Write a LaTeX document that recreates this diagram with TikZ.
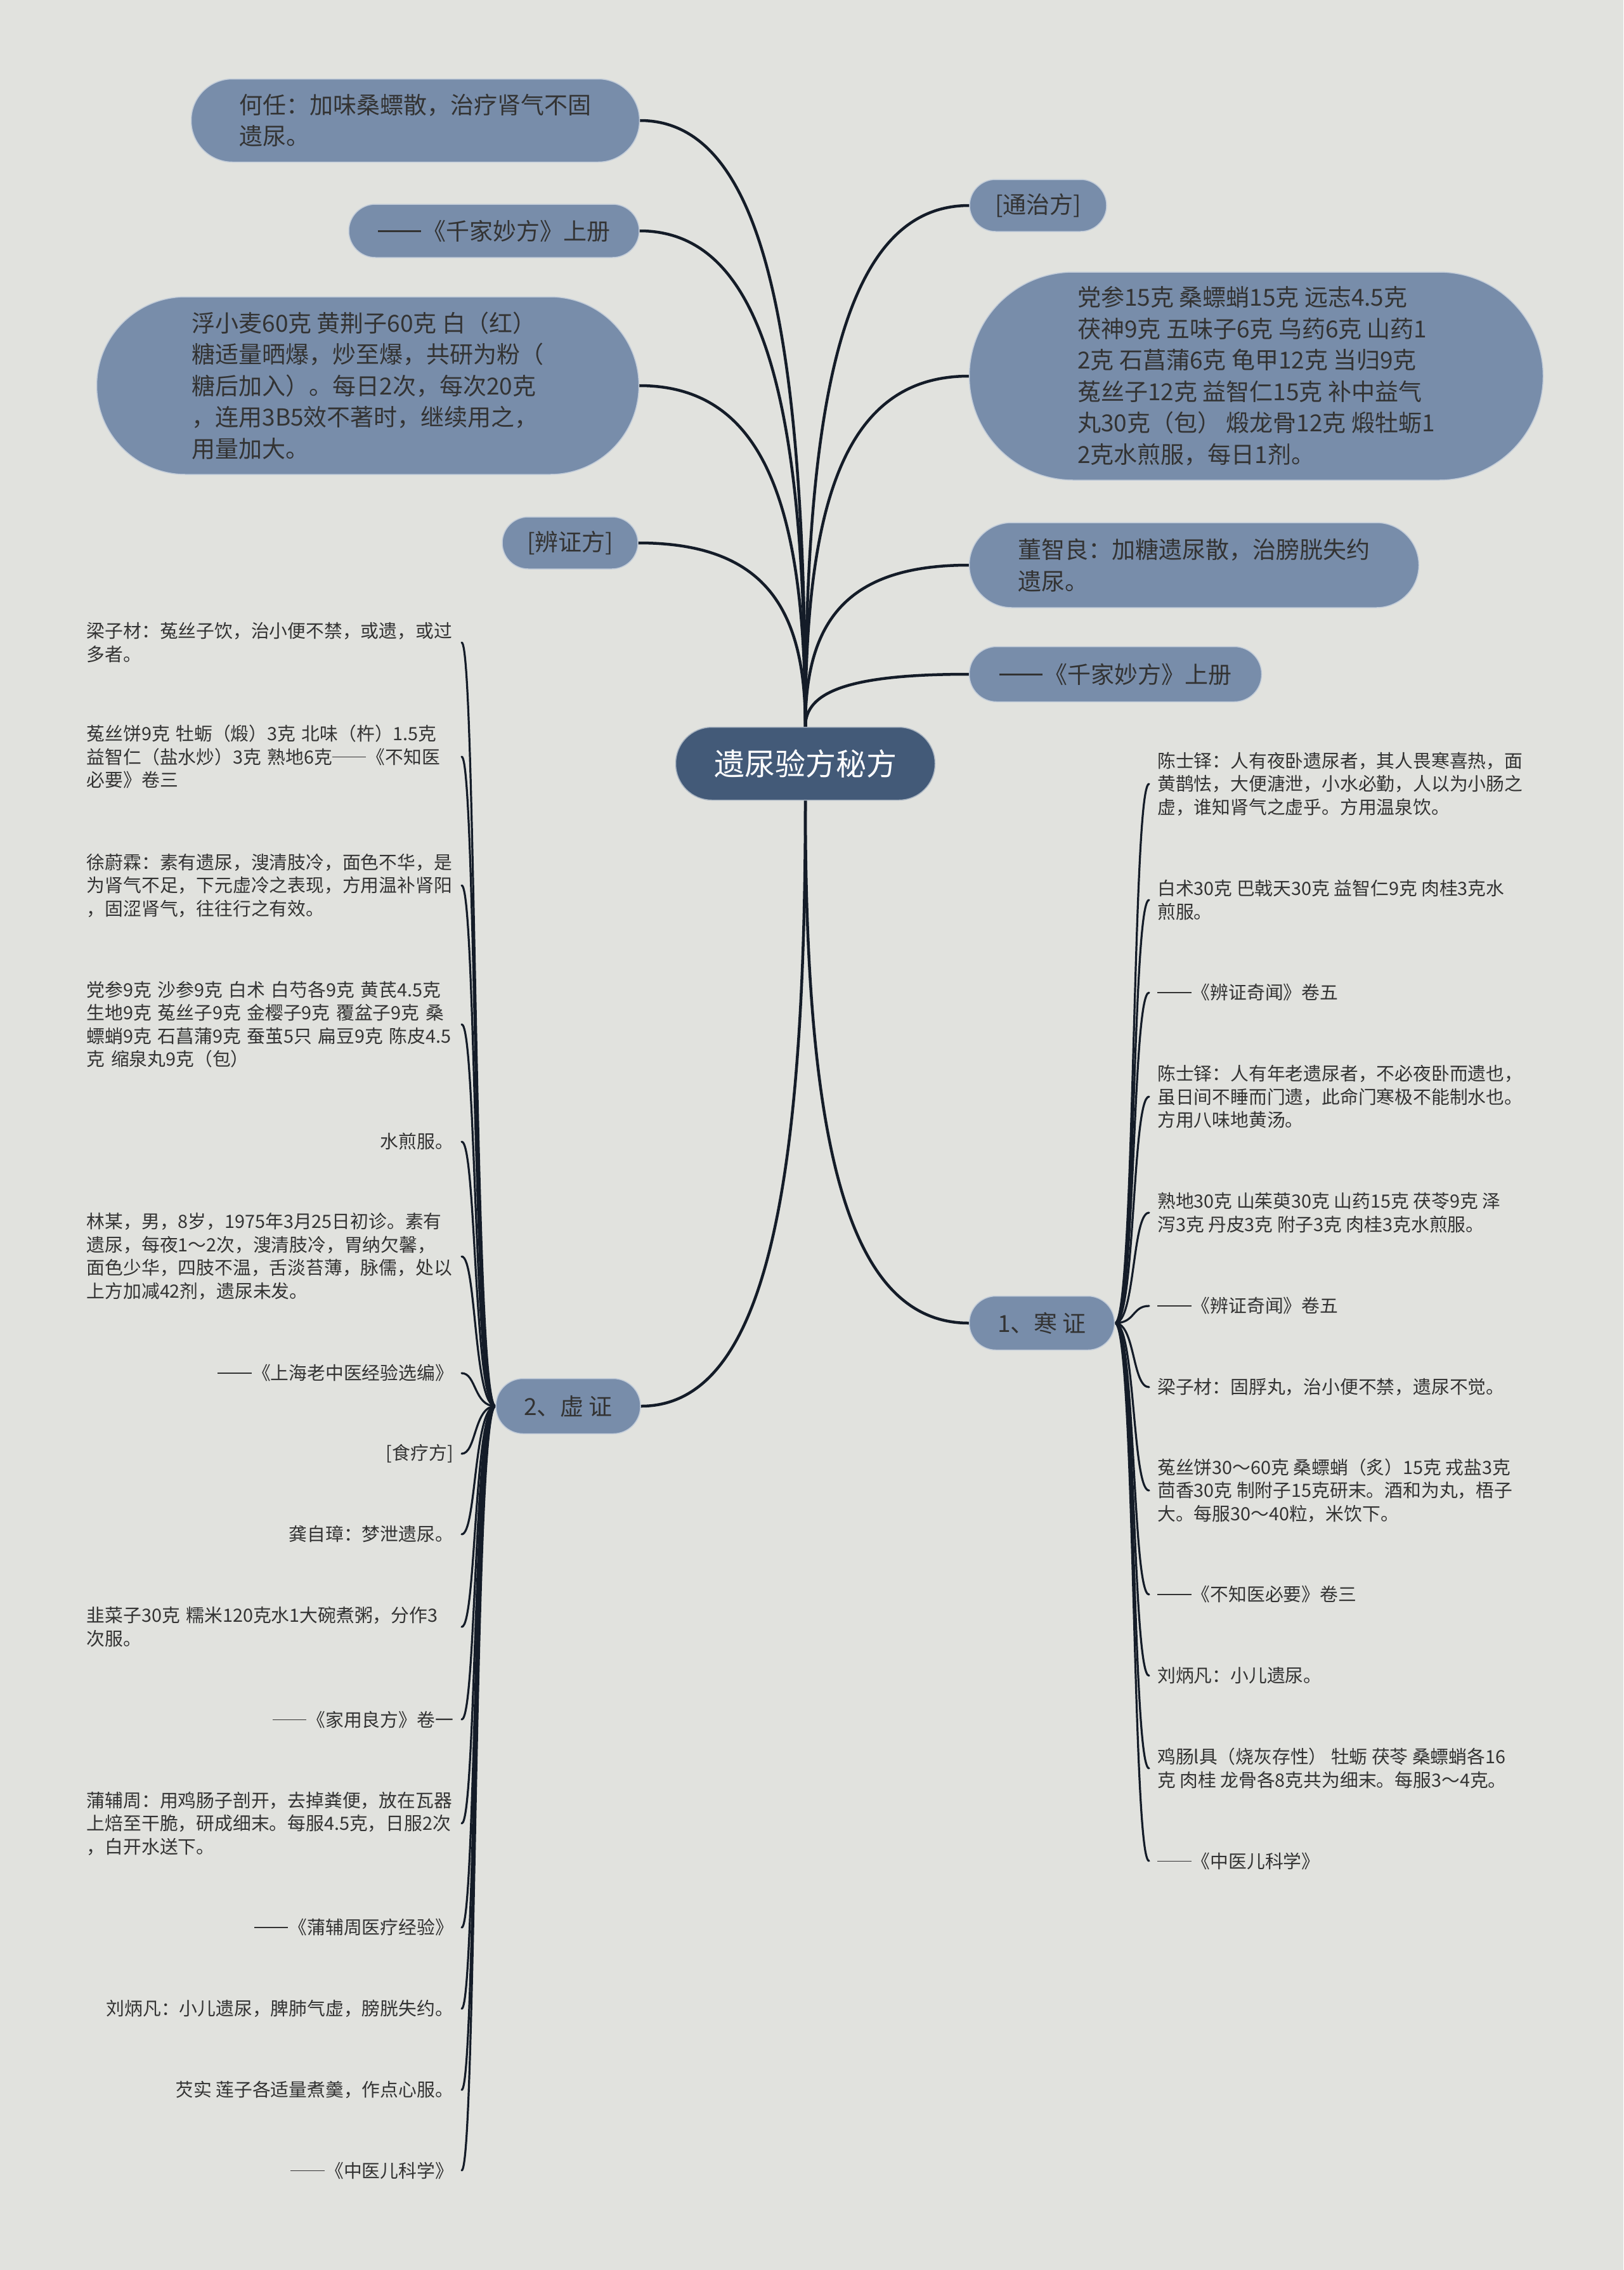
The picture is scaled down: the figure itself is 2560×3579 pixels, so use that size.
\documentclass[tikz,border=0pt]{standalone}
\usepackage{fontspec}
\setmainfont{Noto Sans CJK SC}
\usetikzlibrary{calc}
\definecolor{bgc}{HTML}{E1E2DE}
\definecolor{nodefill}{HTML}{788DAA}
\definecolor{rootfill}{HTML}{435A78}
\definecolor{linec}{HTML}{141C28}
\definecolor{txt}{HTML}{333333}
\pgfdeclarelayer{back}
\pgfsetlayers{back,main}
\newcommand\ddash{\raisebox{0.34em}{\rule{1.85em}{0.06em}}\hspace{0.05em}}
\tikzset{
  box/.style={fill=nodefill, draw=white!55!nodefill, line width=1.5pt, text=txt,
    font=\fontsize{37pt}{49.5pt}\selectfont, align=left, inner sep=0pt},
  rootbox/.style={fill=rootfill, draw=white!55!rootfill, line width=1.5pt, text=white,
    font=\fontsize{48pt}{58pt}\selectfont, inner sep=0pt},
  leafL/.style={anchor=east, text=txt, font=\fontsize{28.8pt}{36.5pt}\selectfont,
    align=left, inner xsep=13pt, inner ysep=0pt},
  leafLw/.style={leafL, text width=578pt},
  leafR/.style={anchor=west, text=txt, font=\fontsize{28.8pt}{36.5pt}\selectfont,
    align=left, inner xsep=13pt, inner ysep=0pt},
  mainline/.style={draw=linec, line width=4.5pt, line cap=round},
  leafline/.style={draw=linec, line width=3.2pt, line cap=round},
}
\newcommand\mconn[2]{\draw[mainline] let \p1=(#1), \p2=(#2) in (\p1) .. controls (\x1,{0.35*\y1+0.65*\y2}) and ({0.75*\x1+0.25*\x2},\y2) .. (\p2);}
\newcommand\rconn[2]{\draw[leafline] let \p1=(#1), \p2=(#2) in (\p1) .. controls ({\x1+32pt},\y1) and ({\x1+27pt},\y2) .. (\p2);}
\newcommand\lconn[2]{\draw[leafline] let \p1=(#1), \p2=(#2) in (\p1) .. controls ({\x1-34pt},\y1) and ({\x1-30pt},\y2) .. (\p2);}
\begin{document}
\begin{tikzpicture}[x=1pt,y=-1pt]
\begin{pgfonlayer}{back}
\fill[bgc] (0,0) rectangle (2560,3579);
\end{pgfonlayer}
\useasboundingbox (0,0) rectangle (2560,3579);

% main nodes
\node[rootbox, minimum width=409pt, minimum height=115pt, rounded corners=57pt] (root) at (1270,1204) {遗尿验方秘方};

\node[box, minimum width=707pt, minimum height=131pt, rounded corners=65pt] (hr) at (655,190) {何任：加味桑螵散，治疗肾气不固\\遗尿。};
\node[box, minimum width=458pt, minimum height=84pt, rounded corners=42pt] (qjl) at (779,364) {\ddash《千家妙方》上册};
\node[box, minimum width=855pt, minimum height=280pt, rounded corners=140pt] (fxm) at (580,608) {浮小麦60克 黄荆子60克 白（红）\\糖适量晒爆，炒至爆，共研为粉（\\糖后加入）。每日2次，每次20克\\，连用3B5效不著时，继续用之，\\用量加大。};
\node[box, minimum width=214pt, minimum height=82pt, rounded corners=41pt] (bzf) at (899,856) {[辨证方]};

\node[box, minimum width=216pt, minimum height=82pt, rounded corners=41pt] (tzf) at (1637,324) {[通治方]};
\node[box, minimum width=905pt, minimum height=328pt, rounded corners=164pt] (ds) at (1981,593) {党参15克 桑螵蛸15克 远志4.5克\\茯神9克 五味子6克 乌药6克 山药1\\2克 石菖蒲6克 龟甲12克 当归9克\\菟丝子12克 益智仁15克 补中益气\\丸30克（包） 煅龙骨12克 煅牡蛎1\\2克水煎服，每日1剂。};
\node[box, minimum width=709pt, minimum height=134pt, rounded corners=67pt] (dzl) at (1883,891) {董智良：加糖遗尿散，治膀胱失约\\遗尿。};
\node[box, minimum width=461pt, minimum height=87pt, rounded corners=43pt] (qjr) at (1759,1063) {\ddash《千家妙方》上册};

\node[box, minimum width=229pt, minimum height=85pt, rounded corners=42pt] (hz) at (1643,2086) {1、寒 证};
\node[box, minimum width=228pt, minimum height=87pt, rounded corners=43pt] (xz) at (896,2217) {2、虚 证};

% right leaves
\node[leafR] (r1) at (1812,1236) {陈士铎：人有夜卧遗尿者，其人畏寒喜热，面\\黄鹊怯，大便溏泄，小水必勤，人以为小肠之\\虚，谁知肾气之虚乎。方用温泉饮。};
\node[leafR] (r2) at (1812,1419) {白术30克 巴戟天30克 益智仁9克 肉桂3克水\\煎服。};
\node[leafR] (r3) at (1812,1565) {\ddash《辨证奇闻》卷五};
\node[leafR] (r4) at (1812,1729) {陈士铎：人有年老遗尿者，不必夜卧而遗也，\\虽日间不睡而门遗，此命门寒极不能制水也。\\方用八味地黄汤。};
\node[leafR] (r5) at (1812,1912) {熟地30克 山茱萸30克 山药15克 茯苓9克 泽\\泻3克 丹皮3克 附子3克 肉桂3克水煎服。};
\node[leafR] (r6) at (1812,2059) {\ddash《辨证奇闻》卷五};
\node[leafR] (r7) at (1812,2187) {梁子材：固脬丸，治小便不禁，遗尿不觉。};
\node[leafR] (r8) at (1812,2350) {菟丝饼30～60克 桑螵蛸（炙）15克 戎盐3克\\茴香30克 制附子15克研末。酒和为丸，梧子\\大。每服30～40粒，米饮下。};
\node[leafR] (r9) at (1812,2514) {\ddash《不知医必要》卷三};
\node[leafR] (r10) at (1812,2642) {刘炳凡：小儿遗尿。};
\node[leafR] (r11) at (1812,2788) {鸡肠l具（烧灰存性） 牡蛎 茯苓 桑螵蛸各16\\克 肉桂 龙骨各8克共为细末。每服3～4克。};
\node[leafR] (r12) at (1812,2934) {\ddash《中医儿科学》};

% left leaves
\node[leafLw] (l1) at (728,1013) {梁子材：菟丝子饮，治小便不禁，或遗，或过\\多者。};
\node[leafLw] (l2) at (728,1193) {菟丝饼9克 牡蛎（煅）3克 北味（杵）1.5克\\益智仁（盐水炒）3克 熟地6克\ddash《不知医\\必要》卷三};
\node[leafLw] (l3) at (728,1396) {徐蔚霖：素有遗尿，溲清肢冷，面色不华，是\\为肾气不足，下元虚冷之表现，方用温补肾阳\\，固涩肾气，往往行之有效。};
\node[leafLw] (l4) at (728,1615) {党参9克 沙参9克 白术 白芍各9克 黄芪4.5克\\生地9克 菟丝子9克 金樱子9克 覆盆子9克 桑\\螵蛸9克 石菖蒲9克 蚕茧5只 扁豆9克 陈皮4.5\\克 缩泉丸9克（包）};
\node[leafL] (l5) at (728,1800) {水煎服。};
\node[leafLw] (l6) at (728,1981) {林某，男，8岁，1975年3月25日初诊。素有\\遗尿，每夜1～2次，溲清肢冷，胃纳欠馨，\\面色少华，四肢不温，舌淡苔薄，脉儒，处以\\上方加减42剂，遗尿未发。};
\node[leafL] (l7) at (728,2165) {\ddash《上海老中医经验选编》};
\node[leafL] (l8) at (728,2292) {[食疗方]};
\node[leafL] (l9) at (728,2419) {龚自璋：梦泄遗尿。};
\node[leafLw] (l10) at (728,2565) {韭菜子30克 糯米120克水1大碗煮粥，分作3\\次服。};
\node[leafL] (l11) at (728,2711) {\ddash《家用良方》卷一};
\node[leafLw] (l12) at (728,2875) {蒲辅周：用鸡肠子剖开，去掉粪便，放在瓦器\\上焙至干脆，研成细末。每服4.5克，日服2次\\，白开水送下。};
\node[leafL] (l13) at (728,3039) {\ddash《蒲辅周医疗经验》};
\node[leafL] (l14) at (728,3167) {刘炳凡：小儿遗尿，脾肺气虚，膀胱失约。};
\node[leafL] (l15) at (728,3295) {芡实 莲子各适量煮羹，作点心服。};
\node[leafL] (l16) at (728,3422) {\ddash《中医儿科学》};

\begin{pgfonlayer}{back}
\mconn{root.north}{hr.east}
\mconn{root.north}{qjl.east}
\mconn{root.north}{fxm.east}
\mconn{root.north}{bzf.east}
\mconn{root.north}{tzf.west}
\mconn{root.north}{ds.west}
\mconn{root.north}{dzl.west}
\mconn{root.north}{qjr.west}
\mconn{root.south}{hz.west}
\mconn{root.south}{xz.east}
\foreach \nm in {r1,r2,r3,r4,r5,r6,r7,r8,r9,r10,r11,r12}{\rconn{hz.east}{\nm.west}}
\foreach \nm in {l1,l2,l3,l4,l5,l6,l7,l8,l9,l10,l11,l12,l13,l14,l15,l16}{\lconn{xz.west}{\nm.east}}
\end{pgfonlayer}
\end{tikzpicture}
\end{document}
